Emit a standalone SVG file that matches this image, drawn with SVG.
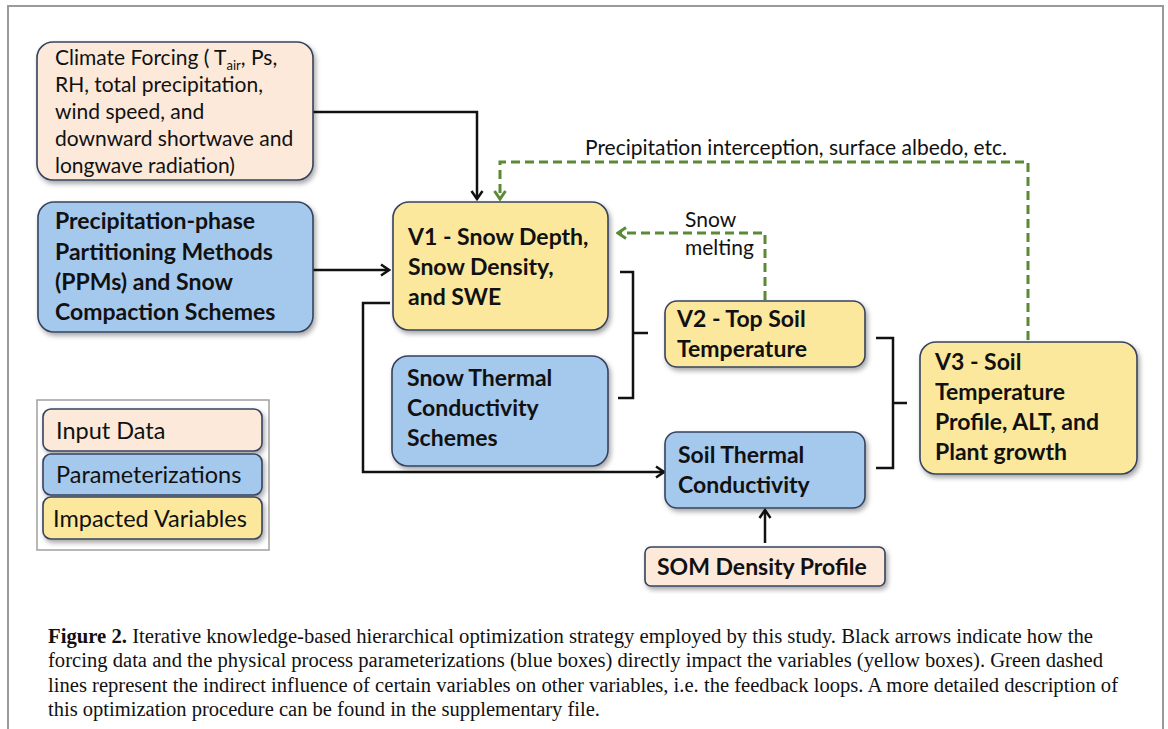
<svg xmlns="http://www.w3.org/2000/svg" width="1168" height="729" viewBox="0 0 1168 729">
<style>
.box{stroke:#36435f;stroke-width:1.6;filter:url(#sh)}
.in{fill:#fce9d9}
.par{fill:#a5c8ed}
.var{fill:#fbe89d}
.t{font-family:Lato,"Liberation Sans",sans-serif;font-size:21px;fill:#111}
.lg{font-family:Lato,"Liberation Sans",sans-serif;font-size:23.5px;fill:#111}
.b{font-family:Lato,"Liberation Sans",sans-serif;font-size:23px;font-weight:bold;fill:#111}
.blk{fill:none;stroke:#111;stroke-width:2.5}
.grn{fill:none;stroke:#5a8a36;stroke-width:3;stroke-dasharray:9 5}
.cap{font-family:"Liberation Serif",serif;font-size:20px;fill:#111}
</style>
<defs>
<filter id="sh" x="-10%" y="-10%" width="125%" height="130%">
<feDropShadow dx="2" dy="3" stdDeviation="2.5" flood-color="#000" flood-opacity="0.35"/>
</filter>
<marker id="ab" markerWidth="12" markerHeight="14" refX="10" refY="7" orient="auto" markerUnits="userSpaceOnUse">
<path d="M2,1.5 L10,7 L2,12.5" fill="none" stroke="#111" stroke-width="2.5"/>
</marker>
<marker id="ag" markerWidth="12" markerHeight="14" refX="10" refY="7" orient="auto" markerUnits="userSpaceOnUse">
<path d="M2,1.5 L10,7 L2,12.5" fill="none" stroke="#5a8a36" stroke-width="3"/>
</marker>
</defs>
<rect width="1168" height="729" fill="#fff"/>
<path d="M8,729 V6 H1163 V729" fill="none" stroke="#9a9a9a" stroke-width="2"/>

<g id="connectors">
<path class="blk" d="M313,112 H477 V199" marker-end="url(#ab)"/>
<path class="blk" d="M313,270 H389" marker-end="url(#ab)"/>
<path class="blk" d="M390,303 H363 V472 H664" marker-end="url(#ab)"/>
<path class="blk" d="M765,543 V510" marker-end="url(#ab)"/>
<path class="blk" d="M620,272 H633 V398 H618 M633,333 H648"/>
<path class="blk" d="M876,338 H893 V468 H876 M893,403 H907"/>
<path class="grn" d="M1028,340 V162 H500 V199" marker-end="url(#ag)"/>
<path class="grn" d="M765,300 V233 H618" marker-end="url(#ag)"/>
<text class="t" x="585" y="155">Precipitation interception, surface albedo, etc.</text>
<text class="t" x="685" y="227">Snow</text>
<text class="t" x="685" y="255">melting</text>
</g>

<g id="climate">
<rect class="box in" x="37" y="42" width="276" height="138" rx="16"/>
<text class="t" x="55" y="65">Climate Forcing ( T<tspan font-size="13" dy="5">air</tspan><tspan dy="-5">, Ps,</tspan></text>
<text class="t" x="55" y="92">RH, total precipitation,</text>
<text class="t" x="55" y="119">wind speed, and</text>
<text class="t" x="55" y="146">downward shortwave and</text>
<text class="t" x="55" y="173">longwave radiation)</text>
</g>

<g id="ppm">
<rect class="box par" x="38" y="202" width="275" height="130" rx="16"/>
<text class="b" x="55" y="229">Precipitation-phase</text>
<text class="b" x="55" y="260">Partitioning Methods</text>
<text class="b" x="55" y="290">(PPMs) and Snow</text>
<text class="b" x="55" y="320">Compaction Schemes</text>
</g>

<g id="v1">
<rect class="box var" x="393" y="202" width="215" height="128" rx="16"/>
<text class="b" x="408" y="245">V1 - Snow Depth,</text>
<text class="b" x="408" y="275">Snow Density,</text>
<text class="b" x="408" y="305">and SWE</text>
</g>

<g id="snowthermal">
<rect class="box par" x="392" y="356" width="216" height="110" rx="16"/>
<text class="b" x="407" y="386">Snow Thermal</text>
<text class="b" x="407" y="416">Conductivity</text>
<text class="b" x="407" y="446">Schemes</text>
</g>

<g id="v2">
<rect class="box var" x="665" y="301" width="200" height="66" rx="12"/>
<text class="b" x="677" y="327">V2 - Top Soil</text>
<text class="b" x="677" y="357">Temperature</text>
</g>

<g id="soilthermal">
<rect class="box par" x="665" y="432" width="200" height="76" rx="12"/>
<text class="b" x="678" y="463">Soil Thermal</text>
<text class="b" x="678" y="493">Conductivity</text>
</g>

<g id="v3">
<rect class="box var" x="920" y="342" width="217" height="132" rx="16"/>
<text class="b" x="935" y="370">V3 - Soil</text>
<text class="b" x="935" y="400">Temperature</text>
<text class="b" x="935" y="430">Profile, ALT, and</text>
<text class="b" x="935" y="460">Plant growth</text>
</g>

<g id="som">
<rect class="box in" x="645" y="547" width="240" height="39" rx="6"/>
<text class="b" x="657" y="575">SOM Density Profile</text>
</g>

<g id="legend">
<rect x="37" y="400" width="232" height="150" fill="#fff" stroke="#a0a0a0" stroke-width="1.5"/>
<rect class="box in" x="43" y="409" width="219" height="42" rx="8"/>
<rect class="box par" x="43" y="454" width="219" height="41" rx="8"/>
<rect class="box var" x="43" y="497" width="219" height="42" rx="8"/>
<text class="lg" x="56" y="439">Input Data</text>
<text class="lg" x="56" y="483">Parameterizations</text>
<text class="lg" x="53" y="527">Impacted Variables</text>
</g>

<g id="caption">
<text class="cap" x="48" y="643" textLength="1045" lengthAdjust="spacingAndGlyphs"><tspan font-weight="bold">Figure 2.</tspan> Iterative knowledge-based hierarchical optimization strategy employed by this study. Black arrows indicate how the</text>
<text class="cap" x="48" y="667" textLength="1055" lengthAdjust="spacingAndGlyphs">forcing data and the physical process parameterizations (blue boxes) directly impact the variables (yellow boxes). Green dashed</text>
<text class="cap" x="48" y="692" textLength="1070" lengthAdjust="spacingAndGlyphs">lines represent the indirect influence of certain variables on other variables, i.e. the feedback loops. A more detailed description of</text>
<text class="cap" x="48" y="716" textLength="552" lengthAdjust="spacingAndGlyphs">this optimization procedure can be found in the supplementary file.</text>
</g>
</svg>
